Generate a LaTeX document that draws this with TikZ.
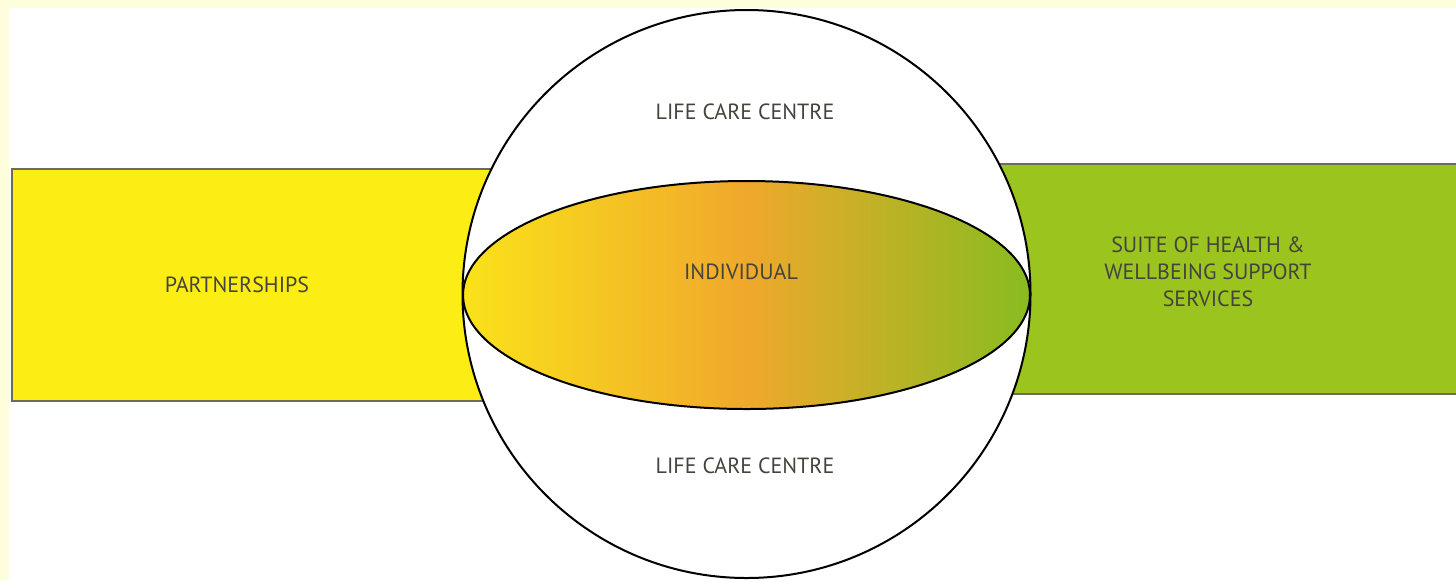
\documentclass[tikz,border=0pt]{standalone}
\usepackage{fontspec}
\setmainfont{PT Sans}
\definecolor{paper}{HTML}{FFFEDC}
\definecolor{partyellow}{HTML}{FCEE14}
\definecolor{suitegreen}{HTML}{9CC41E}
\definecolor{midorange}{HTML}{F0A82C}
\definecolor{endgreen}{HTML}{88BC20}
\definecolor{startyellow}{HTML}{FAE21A}
\definecolor{edgegray}{HTML}{6E6A5E}
\definecolor{labelgray}{HTML}{44443E}
\tikzset{
  label text/.style={text=labelgray, font=\fontsize{11}{13.6}\selectfont, align=center},
  band/.style={draw=edgegray, line width=1pt, inner sep=0pt}
}
\begin{document}
\begin{tikzpicture}[x=0.5pt, y=-0.5pt]
\useasboundingbox (0,0) rectangle (1456,580);
\fill[paper] (0,0) rectangle (1456,580);
\fill[white] (9,8) rectangle (1456,580);
% side bands
\node (partners) [band, fill=partyellow, anchor=north west, minimum width=245pt, minimum height=116pt] at (11,168) {};
\node (suite) [band, fill=suitegreen, anchor=north west, minimum width=250pt, minimum height=115pt] at (990,163) {};
% sphere and individual
\node (centre) [circle, draw=black, line width=1pt, fill=white, minimum size=284pt, inner sep=0pt] at (746.5,294) {};
\path[draw=black, line width=1pt, left color=startyellow, right color=endgreen, middle color=midorange]
  (746.5,295) ellipse (283.5 and 114);
% labels
\node[label text] (top) at (745,112) {LIFE CARE CENTRE};
\node[label text] (bottom) at (745,466) {LIFE CARE CENTRE};
\node[label text] (indiv) at (741,272) {INDIVIDUAL};
\node[label text] (ptext) at (237,285) {PARTNERSHIPS};
\node[label text] (stext) at (1208,272) {SUITE OF HEALTH \&\\WELLBEING SUPPORT\\SERVICES};
\end{tikzpicture}
\end{document}
